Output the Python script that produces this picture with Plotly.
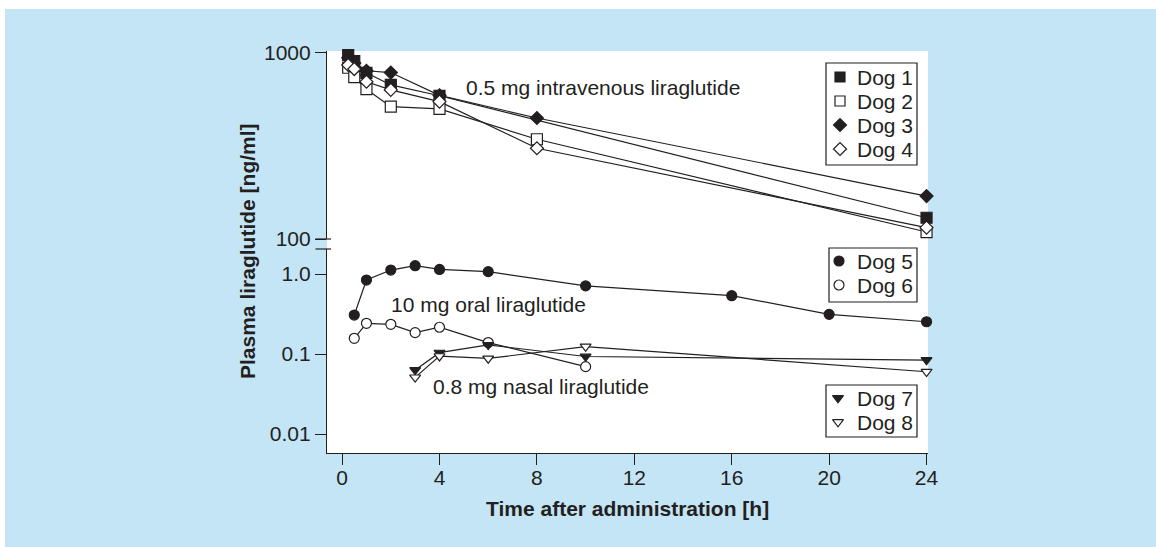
import plotly.graph_objects as go

# ---------------- data ----------------
iv_time = [0.25, 0.5, 1, 2, 4, 8, 24]
iv_time_dog1 = [0.25, 0.5, 1, 2, 4, 24]
dog1 = [970, 900, 780, 671, 587, 130]
dog2 = [830, 740, 637, 513, 499, 343, 109]
dog3 = [940, 880, 800, 782, 590, 446, 170]
dog4 = [859, 817, 698, 631, 546, 307, 115]

oral_time5 = [0.5, 1, 2, 3, 4, 6, 10, 16, 20, 24]
dog5 = [0.307, 0.84, 1.12, 1.27, 1.14, 1.07, 0.71, 0.536, 0.313, 0.253]
oral_time6 = [0.5, 1, 2, 3, 4, 6, 10]
dog6 = [0.157, 0.242, 0.235, 0.185, 0.216, 0.139, 0.0695]

nasal_time = [3, 4, 6, 10, 24]
dog7 = [0.063, 0.104, 0.13, 0.093, 0.084]
dog8 = [0.051, 0.094, 0.088, 0.124, 0.060]

dog_names = ["Dog 1", "Dog 2", "Dog 3", "Dog 4", "Dog 5", "Dog 6", "Dog 7", "Dog 8"]
x_ticks = [0, 4, 8, 12, 16, 20, 24]
top_ticks = [100, 1000]
top_ticklabels = ["100", "1000"]
bot_ticks = [0.01, 0.1, 1]
bot_ticklabels = ["0.01", "0.1", "1.0"]

# ---------------- style ----------------
DARK = "#231f20"
BLUE = "#c3e5f6"
FONT = "Liberation Sans, Arial, Helvetica, sans-serif"
FS = 21

series = [
    # x, y, yaxis, symbol, fill, size
    (iv_time_dog1, dog1, "y2", "square", DARK, 11),
    (iv_time, dog2, "y2", "square", "white", 11),
    (iv_time, dog3, "y2", "diamond", DARK, 10),
    (iv_time, dog4, "y2", "diamond", "white", 10),
    (oral_time5, dog5, "y", "circle", DARK, 10),
    (oral_time6, dog6, "y", "circle", "white", 10),
    (nasal_time, dog7, "y", "triangle-down", DARK, 9.5),
    (nasal_time, dog8, "y", "triangle-down", "white", 9.5),
]
marker_order = [2, 1, 0, 3, 4, 5, 6, 7]

L, R, T, B = 327, 228, 51, 94
W, H = 1156, 547
PW, PH = W - L - R, H - T - B


def px(xp):
    return (xp - L) / PW


def py(yp):
    return (H - B - yp) / PH


fig = go.Figure()

# lines first
for xs, ys, ya, sym, fill, size in series:
    fig.add_trace(go.Scatter(
        x=xs, y=ys, yaxis=ya, mode="lines",
        line=dict(color=DARK, width=1.2),
        showlegend=False, hoverinfo="skip",
    ))

# markers on top
for i in marker_order:
    xs, ys, ya, sym, fill, size = series[i]
    fig.add_trace(go.Scatter(
        x=xs, y=ys, yaxis=ya, mode="markers", name=dog_names[i], showlegend=False,
        marker=dict(symbol=sym, size=size, color=fill,
                    line=dict(color=DARK, width=1.2)),
        cliponaxis=False,
    ))

# ---- legend boxes (drawn by hand on a pixel overlay axis) ----
legend_groups = [
    # (box x0, x1, y0, y1), marker x, text x, row y's, series indices
    ((826, 917, 63, 165), 840, 855, [77, 101, 125, 149], [0, 1, 2, 3]),
    ((829, 917, 248, 302), 839, 855, [261, 285], [4, 5]),
    ((826, 917, 385, 437), 838, 855, [398, 422], [6, 7]),
]

shapes = [
    dict(type="rect", xref="paper", yref="paper", x0=0, x1=1, y0=0, y1=1,
         fillcolor="white", line=dict(width=0), layer="below"),
    dict(type="rect", xref="paper", yref="paper", x0=px(0), x1=px(5),
         y0=py(H), y1=py(0), fillcolor="white", line=dict(width=0), layer="below"),
    dict(type="rect", xref="paper", yref="paper", x0=px(0), x1=px(W),
         y0=py(9), y1=py(0), fillcolor="white", line=dict(width=0), layer="below"),
    dict(type="line", xref="paper", yref="paper", x0=px(315.5), x1=px(331),
         y0=py(239), y1=py(239), line=dict(color=DARK, width=1.2)),
    dict(type="line", xref="paper", yref="paper", x0=px(315.5), x1=px(331),
         y0=py(249), y1=py(249), line=dict(color=DARK, width=1.2)),
]

annos = [
    dict(text="<b>Plasma liraglutide [ng/ml]</b>", x=px(248), y=py(251),
         textangle=-90, xanchor="center"),
    dict(text="<b>Time after administration [h]</b>", x=px(627.5), y=py(508),
         xanchor="center"),
    dict(text="0.5 mg intravenous liraglutide", x=px(464), y=py(88), xanchor="left"),
    dict(text="10 mg oral liraglutide", x=px(389), y=py(304), xanchor="left"),
    dict(text="0.8 mg nasal liraglutide", x=px(431), y=py(386), xanchor="left"),
]

for (bx0, bx1, by0, by1), mx, tx, rows, idxs in legend_groups:
    shapes.append(dict(type="rect", xref="paper", yref="paper",
                       x0=px(bx0), x1=px(bx1), y0=py(by1), y1=py(by0),
                       line=dict(color=DARK, width=1.2), layer="above"))
    for ry, i in zip(rows, idxs):
        xs, ys, ya, sym, fill, size = series[i]
        fig.add_trace(go.Scatter(
            x=[mx], y=[ry], xaxis="x2", yaxis="y3", mode="markers",
            marker=dict(symbol=sym, size=size - 1 if sym == "square" else size,
                        color=fill, line=dict(color=DARK, width=1.2)),
            showlegend=False, hoverinfo="skip", cliponaxis=False,
        ))
        annos.append(dict(text=dog_names[i], x=px(tx), y=py(ry), xanchor="left"))

for a in annos:
    a.update(xref="paper", yref="paper", yanchor="middle", showarrow=False,
             font=dict(family=FONT, size=FS, color=DARK))

axis_common = dict(
    showline=True, linecolor=DARK, linewidth=1.2,
    ticks="outside", ticklen=11, tickcolor=DARK, tickwidth=1.2,
    showgrid=False, zeroline=False,
    tickfont=dict(family=FONT, size=FS, color=DARK),
)

fig.update_layout(
    width=W, height=H, autosize=False,
    margin=dict(l=L, r=R, t=T, b=B, pad=0),
    paper_bgcolor=BLUE, plot_bgcolor="rgba(0,0,0,0)",
    font=dict(family=FONT, color=DARK, size=FS),
    showlegend=False,
    xaxis=dict(range=[-0.62, 24.06], tickvals=x_ticks, ticklabelstandoff=-5,
               **axis_common),
    yaxis=dict(type="log", domain=[0, py(249)], range=[-2.2375, 0.3125],
               tickvals=bot_ticks, ticktext=bot_ticklabels, anchor="x",
               **axis_common),
    yaxis2=dict(type="log", domain=[py(239), 1], range=[2, 3.009],
                tickvals=top_ticks, ticktext=top_ticklabels, anchor="x",
                **axis_common),
    # pixel overlay for hand-drawn legend markers
    xaxis2=dict(domain=[0, 1], range=[L, W - R], visible=False, anchor="y3",
                fixedrange=True),
    yaxis3=dict(domain=[0, 1], range=[H - B, T], visible=False, anchor="x2",
                fixedrange=True),
    shapes=shapes,
    annotations=annos,
)

fig.write_html("out.html")
